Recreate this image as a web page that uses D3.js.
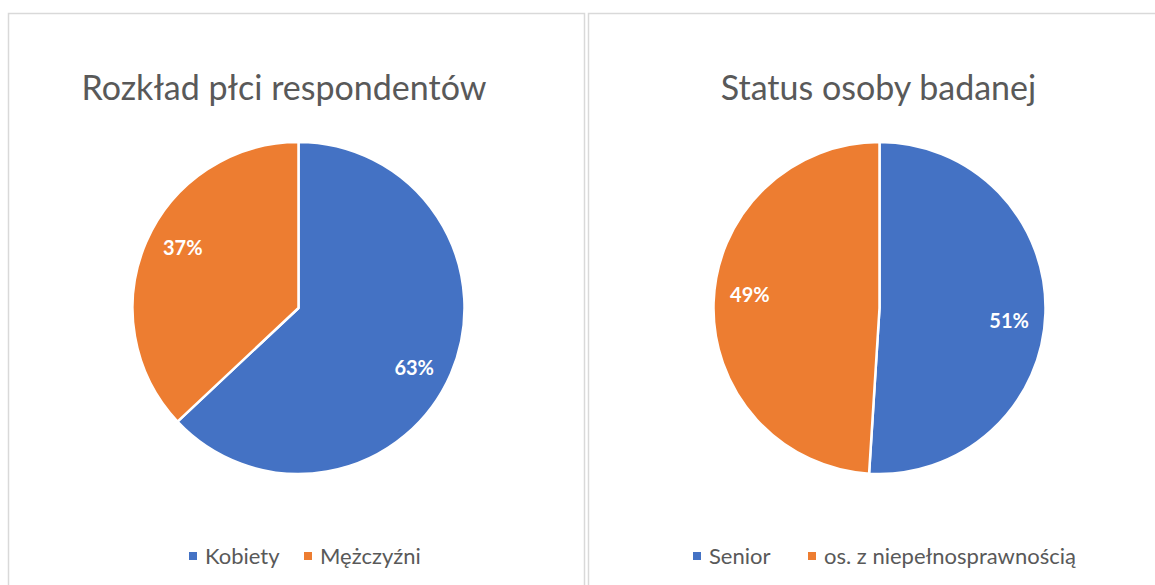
<!DOCTYPE html>
<html>
<head>
<meta charset="utf-8">
<script src="https://cdn.jsdelivr.net/npm/d3@7"></script>
<style>
  body { margin: 0; background: #fff; }
  svg { display: block; font-family: Lato, "Open Sans", sans-serif; }
</style>
</head>
<body>
<svg id="chart" width="1155" height="585"></svg>
<script>
// data
const genderTitle = 'Rozkład płci respondentów';
const genderLabels = ['Kobiety', 'Mężczyźni'];
const genderValues = [63, 37];

const statusTitle = 'Status osoby badanej';
const statusLabels = ['Senior', 'os. z niepełnosprawnością'];
const statusValues = [51, 49];

const COLORS = ['#4472C4', '#ED7D31'];
const TEXT_COLOR = '#595959';
const RADIUS = 166;
const LABEL_RADIUS = RADIUS * 0.785;
const LABEL_TURN = 4 * Math.PI / 180; // excel nudges labels a bit clockwise

const svg = d3.select('svg#chart');

// chart panels (frame, title x, pie centre x, legend start x)
const panels = [
  { title: genderTitle, labels: genderLabels, values: genderValues,
    x0: 8.5, x1: 584.5, titleX: 284, cx: 298.5, legendX: 189 },
  { title: statusTitle, labels: statusLabels, values: statusValues,
    x0: 588.5, x1: 1170, titleX: 878.5, cx: 879.5, legendX: 693 }
];

const pie = d3.pie().sort(null).value(d => d);
const arc = d3.arc().innerRadius(0).outerRadius(RADIUS);
const labelArc = d3.arc().innerRadius(LABEL_RADIUS).outerRadius(LABEL_RADIUS);
const color = d3.scaleOrdinal().range(COLORS);

panels.forEach((p) => {
  const g = svg.append('g');
  color.domain(p.labels);

  g.append('rect')
    .attr('x', p.x0)
    .attr('y', 13.5)
    .attr('width', p.x1 - p.x0)
    .attr('height', 600)
    .attr('fill', '#fff')
    .attr('stroke', '#d9d9d9')
    .attr('stroke-width', 1.5);

  g.append('text')
    .attr('x', p.titleX)
    .attr('y', 100)
    .attr('text-anchor', 'middle')
    .attr('fill', TEXT_COLOR)
    .attr('font-size', '34px')
    .text(p.title);

  const pieG = g.append('g')
    .attr('transform', `translate(${p.cx},308)`);
  const slices = pie(p.values);

  pieG.selectAll('path')
    .data(slices)
    .enter()
    .append('path')
    .attr('d', arc)
    .attr('fill', (d, i) => color(p.labels[i]))
    .attr('stroke', '#fff')
    .attr('stroke-width', 2.5)
    .attr('stroke-linejoin', 'round');

  const total = d3.sum(p.values);
  pieG.selectAll('text')
    .data(slices)
    .enter()
    .append('text')
    .attr('transform', (d) => {
      const turned = { startAngle: d.startAngle + LABEL_TURN, endAngle: d.endAngle + LABEL_TURN };
      return `translate(${labelArc.centroid(turned)})`;
    })
    .attr('text-anchor', 'middle')
    .attr('dy', '0.36em')
    .attr('fill', '#fff')
    .attr('font-weight', 'bold')
    .attr('font-size', '20px')
    .text(d => `${Math.round(d.value / total * 100)}%`);

  // legend
  const legend = g.selectAll('g.legend')
    .data(p.labels)
    .enter()
    .append('g')
    .attr('class', 'legend')
    .attr('transform', (d, i) => `translate(${p.legendX + i * 115},556)`);

  legend.append('rect')
    .attr('x', 0)
    .attr('y', -4)
    .attr('width', 8)
    .attr('height', 8)
    .attr('fill', d => color(d));

  legend.append('text')
    .attr('x', 16)
    .attr('y', 7.5)
    .attr('fill', TEXT_COLOR)
    .attr('font-size', '22px')
    .text(d => d);
});
</script>
</body>
</html>
